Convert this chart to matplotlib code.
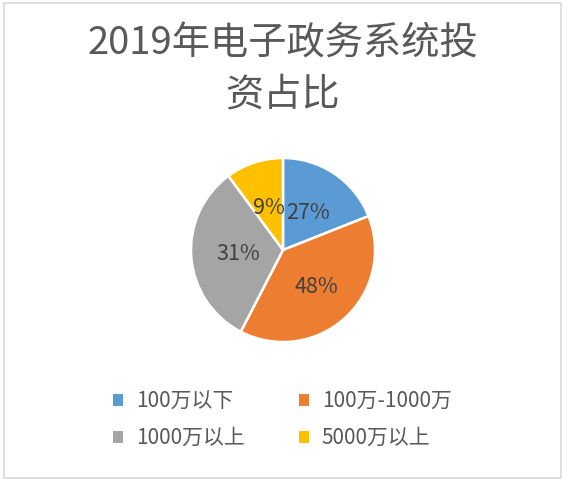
import numpy as np
import matplotlib
matplotlib.use("Agg")
import matplotlib.pyplot as plt
from matplotlib.patches import Patch, Rectangle

plt.rcParams["font.family"] = ["Noto Sans CJK SC", "DejaVu Sans"]

# slice sizes; label texts as printed on the chart
categories = ["100万以下", "100万-1000万", "1000万以上", "5000万以上"]
sizes = [19, 38.6, 32.3, 10.1]
label_text = ["27%", "48%", "31%", "9%"]
label_r = [0.49, 0.54, 0.49, 0.48]
colors = ["#5B9BD5", "#ED7D31", "#A5A5A5", "#FFC000"]

W, H = 570, 487
fig = plt.figure(figsize=(W / 100, H / 100), dpi=100)

# chart-area border
fig.patches.append(Rectangle((4 / W, 1 - 478 / H), 557 / W, 475 / H,
                             transform=fig.transFigure, fill=False,
                             edgecolor="#D9D9D9", linewidth=1.2))

fig.text(283 / W, 1 - 44 / H, "2019年电子政务系统投", ha="center", va="center",
         fontsize=27.5, color="#595959")
fig.text(283 / W, 1 - 95 / H, "资占比", ha="center", va="center",
         fontsize=27.5, color="#595959")

cx, cy, r = 283, 250, 92
ax = fig.add_axes([(cx - r) / W, 1 - (cy + r) / H, 2 * r / W, 2 * r / H])
wedges, _ = ax.pie(sizes, colors=colors, startangle=90, counterclock=False,
                   wedgeprops=dict(edgecolor="white", linewidth=1.8))
ax.set_xlim(-1, 1)
ax.set_ylim(-1, 1)
ax.set_aspect("equal")
ax.axis("off")

for w, t, d in zip(wedges, label_text, label_r):
    mid = np.deg2rad((w.theta1 + w.theta2) / 2)
    ax.text(d * np.cos(mid), d * np.sin(mid), t, ha="center", va="center",
            fontsize=15.5, color="#404040")

# legend is filled row by row in the reference: reorder for column-major filling
order = [0, 2, 1, 3]
handles = [Patch(facecolor=colors[i], edgecolor="none", label=categories[i]) for i in order]
fig.legend(handles=handles, loc="upper left", bbox_to_anchor=(113 / W, 1 - 390 / H),
           ncol=2, frameon=False, fontsize=15, borderpad=0, borderaxespad=0,
           handlelength=0.5, handleheight=0.5, handletextpad=0.6, columnspacing=2.6,
           labelspacing=0.72, labelcolor="#595959")

fig.savefig("out.png", dpi=100)
